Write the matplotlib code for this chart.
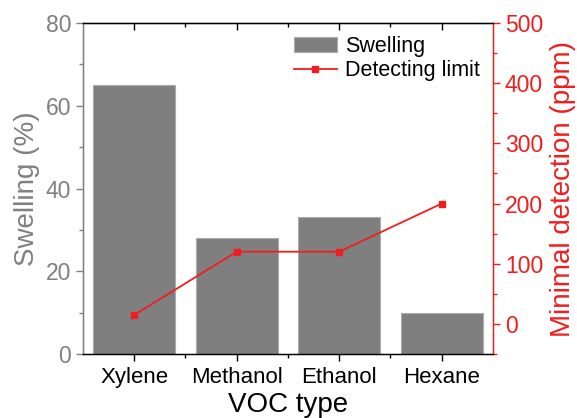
import matplotlib
matplotlib.use("Agg")
import matplotlib.pyplot as plt
from matplotlib.ticker import MultipleLocator, FixedLocator

plt.rcParams['font.family'] = ['Liberation Sans', 'DejaVu Sans']

# swelling and detection limit per solvent
voc_types = ["Xylene", "Methanol", "Ethanol", "Hexane"]
swelling = [65, 28, 33, 10]
detect_limit = [15, 120, 120, 200]

GRAY = '#808080'
RED = '#f01e1e'

fig = plt.figure(figsize=(5.77, 4.18), dpi=100)
ax = fig.add_axes([0.1438, 0.153, 0.7106, 0.792])
ax2 = ax.twinx()

pos = list(range(1, len(voc_types) + 1))
bars = ax.bar(pos, swelling, width=0.8, color='#7f7f7f', edgecolor='#ababab',
              linewidth=0.8, label='Swelling')
line, = ax2.plot(pos, detect_limit, color=RED, linewidth=1.3, marker='s',
                 markersize=5, label='Detecting limit')

ax.set_xlim(0.5, 4.5)
ax.set_ylim(0, 80)
ax2.set_ylim(-50, 500)

ax.set_xticks(pos)
ax.set_xticklabels(voc_types, fontsize=16)
ax.xaxis.set_minor_locator(FixedLocator([1.5, 2.5, 3.5]))
ax.yaxis.set_major_locator(MultipleLocator(20))
ax.yaxis.set_minor_locator(MultipleLocator(10))
ax2.yaxis.set_major_locator(MultipleLocator(100))
ax2.yaxis.set_minor_locator(MultipleLocator(50))

ax.tick_params(axis='x', which='major', direction='out', length=5, width=1, pad=4)
ax.tick_params(axis='x', which='minor', direction='out', length=3, width=1)
ax.tick_params(axis='y', which='major', length=5, width=1, colors=GRAY, labelsize=16.5)
ax.tick_params(axis='y', which='minor', length=3, width=1, colors=GRAY)
ax2.tick_params(axis='y', which='major', length=5, width=1, colors=RED, labelsize=16.5)
ax2.tick_params(axis='y', which='minor', length=3, width=1, colors=RED)

# top ticks point into the plot, bottom ones outward
sec = ax.secondary_xaxis('top')
sec.set_xticks(pos)
sec.xaxis.set_minor_locator(FixedLocator([1.5, 2.5, 3.5]))
sec.tick_params(which='major', direction='in', length=5, width=1, labeltop=False)
sec.tick_params(which='minor', direction='in', length=3, width=1)
sec.set_xticklabels([])

ax2.spines['left'].set_color(GRAY)
ax2.spines['right'].set_color(RED)
ax2.spines['top'].set_color('black')
ax2.spines['bottom'].set_color('black')
for s in ax2.spines.values():
    s.set_linewidth(1)

ax.set_xlabel('VOC type', fontsize=20, labelpad=3)
ax.set_ylabel('Swelling (%)', fontsize=20, color=GRAY, labelpad=4)
ax2.set_ylabel('Minimal detection (ppm)', fontsize=20, color=RED, labelpad=5)

ax2.legend([bars, line], ['Swelling', 'Detecting limit'], loc='upper right',
           frameon=False, fontsize=15.5, handlelength=2.0, handletextpad=0.4,
           labelspacing=0.15, borderaxespad=0.2)

fig.savefig('out.png', dpi=100)
